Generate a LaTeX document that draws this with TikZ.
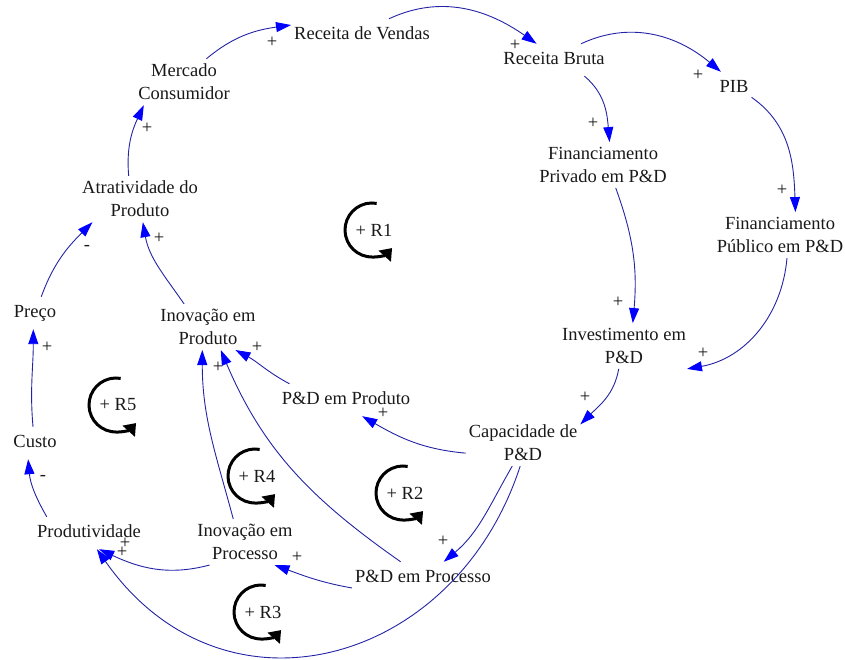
\documentclass[tikz,border=0pt]{standalone}
\usepackage{fontspec}
\setmainfont{Liberation Serif}
\usetikzlibrary{arrows.meta}
\definecolor{linkblue}{RGB}{35,35,165}
\definecolor{tipblue}{RGB}{0,0,255}
\begin{document}
\begin{tikzpicture}[x=1pt,y=1pt,
  every node/.style={font=\fontsize{18.5}{23}\selectfont, text=black!90},
  var/.style={inner xsep=3pt, inner ysep=8pt, text height=12.5pt, text depth=3.5pt},
  var2/.style={align=center, inner xsep=3pt, inner ysep=5pt},
  link/.style={draw=linkblue, line width=0.9pt,
    -{Triangle[length=15pt,width=10pt,color=tipblue]}},
  sign/.style={inner sep=0pt},
  loopline/.style={line width=3pt, -{Triangle[length=11pt,width=16pt]}},
]
\useasboundingbox (0,0) rectangle (845,659);

% variables
\node[var]  (rv)     at (362,624) {Receita de Vendas};
\node[var]  (rb)     at (554,599) {Receita Bruta};
\node[var]  (pib)    at (734,571) {PIB};
\node[var2] (fpriv)  at (603,494) {Financiamento\\Privado em P\&D};
\node[var2] (fpub)   at (780,424) {Financiamento\\Público em P\&D};
\node[var2] (inv)    at (624,313) {Investimento em\\P\&D};
\node[var2] (cap)    at (523,216) {Capacidade de\\P\&D};
\node[var]  (pdprod) at (346,259) {P\&D em Produto};
\node[var]  (pdproc) at (423,81)  {P\&D em Processo};
\node[var2] (inprod) at (208,332) {Inovação em\\Produto};
\node[var2] (inproc) at (245,117) {Inovação em\\Processo};
\node[var]  (prodt)  at (89,126)  {Produtividade};
\node[var]  (custo)  at (35,216)  {Custo};
\node[var]  (preco)  at (35,346)  {Preço};
\node[var2] (atr)    at (140,460) {Atratividade do\\Produto};
\node[var2] (mc)     at (184,577) {Mercado\\Consumidor};

% causal links
\draw[link] (mc.46)     to[out=40,in=188]  (rv.172);
\draw[link] (rv.31)     to[out=25,in=145]  (rb.137);
\draw[link] (rb.31)     to[out=25,in=140]  (pib.129);
\draw[link] (rb.-28)    to[out=-40,in=95]  (fpriv.74);
\draw[link] (pib.-28)   to[out=-35,in=92]  (fpub.56);
\draw[link] (fpriv.-61) to[out=-70,in=85]  (inv.69);
\draw[link] (fpub.-73)  to[out=-95,in=10]  (inv.-20);
\draw[link] (inv.-103)  to[out=-100,in=45] (cap.18);
\draw[link] (cap.190)   to[out=175,in=-30] (pdprod.-45);
\draw[link] (cap.-115)  to[out=-120,in=40] (pdproc.38);
\draw[link] (cap.-97) .. controls +(-108:210) and +(-55:220) .. (prodt.-64);
\draw[link] (pdproc.188) to[out=170,in=-20] (inproc.-38);
\draw[link] (pdproc.144) to[out=145,in=-67] (inprod.-61);
\draw[link] (inproc.117) to[out=105,in=-90] (inprod.-104);
\draw[link] (inproc.213) to[out=195,in=-25] (prodt.-58);
\draw[link] (prodt.159)  to[out=120,in=-85] (custo.-113);
\draw[link] (custo.97)   to[out=95,in=-90]  (preco.-96);
\draw[link] (preco.69)   to[out=70,in=225]  (atr.206);
\draw[link] (inprod.136) to[out=125,in=-80] (atr.-83);
\draw[link] (atr.116)    to[out=95,in=-115] (mc.210);
\draw[link] (pdprod.164) to[out=152,in=-28] (inprod.-40);

% polarities
\node[sign] (s1)  at (272,617) {+};
\node[sign] (s2)  at (515,614) {+};
\node[sign] (s3)  at (698,584) {+};
\node[sign] (s4)  at (593,536) {+};
\node[sign] (s5)  at (782,469) {+};
\node[sign] (s6)  at (618,357) {+};
\node[sign] (s7)  at (703,306) {+};
\node[sign] (s8)  at (585,262) {+};
\node[sign] (s9)  at (383,246) {+};
\node[sign] (s10) at (443,118) {+};
\node[sign] (s11) at (125,116) {+};
\node[sign] (s15) at (122,107) {+};
\node[sign] (s12) at (297,102) {+};
\node[sign] (s13) at (218,292) {+};
\node[sign] (s21) at (257,312) {+};
\node[sign] (s16) at (43,181)  {-};
\node[sign] (s17) at (47,312)  {+};
\node[sign] (s18) at (87,411)  {-};
\node[sign] (s19) at (159,421) {+};
\node[sign] (s20) at (147,531) {+};

% reinforcing loop markers
\foreach \n/\x/\y in {1/372/429, 5/116/254, 4/255/183, 2/403/166, 3/261/47}{
  \coordinate (c\n) at (\x,\y);
  \node (lab\n) at ([xshift=2pt]c\n) {+ R\n};
  \draw[loopline] ([shift={(80:27)}]c\n) arc[start angle=80,end angle=318,radius=27];
}
\end{tikzpicture}
\end{document}
